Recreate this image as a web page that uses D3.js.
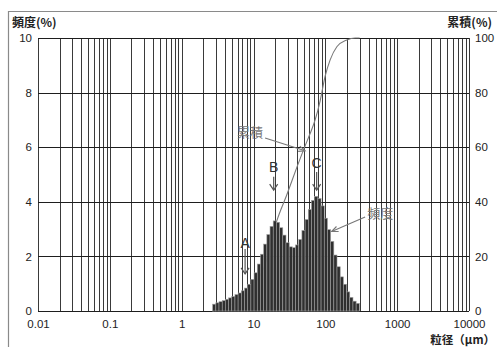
<!DOCTYPE html>
<html><head><meta charset="utf-8">
<script src="https://cdn.jsdelivr.net/npm/d3@7"></script>
<style>
html,body{margin:0;padding:0;background:#fff;}
svg{display:block;}
text{font-family:"Liberation Sans",Arial,sans-serif;}
.jp{font-family:"Noto Sans CJK JP","Noto Sans",sans-serif;}
</style></head>
<body>
<svg id="c" width="497" height="347"></svg>
<script>
// ---- data ----
const binEdges = [2.70,2.99,3.31,3.67,4.06,4.50,4.98,5.52,6.11,6.77,7.50,8.31,9.20,10.19,11.29,12.50,13.85,15.34,16.99,18.82,20.84,23.09,25.57,28.33,31.38,34.75,38.49,42.64,47.23,52.31,57.94,64.18,71.09,78.75,87.22,96.61,107.0,118.5,131.3,145.4,161.1,178.4,197.6,218.9,242.5,268.5,297.5];
const freq = [0.25,0.30,0.34,0.38,0.43,0.48,0.53,0.60,0.66,0.74,0.84,0.98,1.16,1.40,1.72,2.08,2.45,2.80,3.10,3.30,3.25,3.05,2.78,2.50,2.35,2.32,2.42,2.62,2.95,3.35,3.72,4.05,4.20,4.12,3.85,3.40,2.98,2.55,2.05,1.62,1.25,0.98,0.70,0.50,0.36,0.28];
const cumSize = [2.70,4.72,8.97,14.5,21.1,29.1,40.1,52.3,61.4,72.1,84.7,99.4,116.7,144.6,199,260,300];
const cumPct  = [0,2,8,17,33,42.6,52.6,60.5,65,70,77,86,92,96.8,99.3,100,100];
const xTicks = [0.01,0.1,1,10,100,1000,10000];
const xTickLabels = ["0.01","0.1","1","10","100","1000","10000"];
const yLeftTicks = [0,2,4,6,8,10];
const yRightTicks = [0,20,40,60,80,100];
const peakLabels = [
  {t:"A", s:7.64, v:2.49, a0:2.27, a1:1.36},
  {t:"B", s:19.1, v:5.29, a0:4.92, a1:4.43},
  {t:"C", s:75.7, v:5.42, a0:5.09, a1:4.43}
];
const callouts = [
  {t:"累積", s:5.91, v:6.37, fs:14.5, fv:6.34, ts:52.3, tv:5.87},
  {t:"頻度", s:382, v:3.42, fs:358, fv:3.44, ts:122.4, tv:2.91}
];

// ---- scales ----
const L=38, R=469, T=38, B=311;
const x = d3.scaleLog().domain([0.01,10000]).range([L,R]);
const yL = d3.scaleLinear().domain([0,10]).range([B,T]);
const yR = d3.scaleLinear().domain([0,100]).range([B,T]);
const svg = d3.select("#c");

// outer frame
svg.append("path").attr("d","M8.5,347 L8.5,11.5 L497,11.5").attr("fill","none").attr("stroke","#8a8a8a").attr("stroke-width",1.2);

// vertical grid
const vgrid=[];
for(let e=-2;e<=3;e++){for(let m=1;m<=9;m++){vgrid.push(m*Math.pow(10,e));}}
vgrid.push(10000);
svg.append("g").selectAll("line").data(vgrid).join("line")
  .attr("x1",d=>Math.round(x(d))+0.5).attr("x2",d=>Math.round(x(d))+0.5)
  .attr("y1",T).attr("y2",B).attr("stroke","#3a3a3a").attr("stroke-width",1);
// horizontal grid
svg.append("g").selectAll("line").data(yLeftTicks).join("line")
  .attr("x1",L).attr("x2",R).attr("y1",d=>Math.round(yL(d))+0.5).attr("y2",d=>Math.round(yL(d))+0.5)
  .attr("stroke","#1e1e1e").attr("stroke-width",1.1);

// cumulative curve (behind bars)
svg.append("path").datum(cumSize.map((s,i)=>[s,cumPct[i]]))
  .attr("d",d3.line().x(d=>x(d[0])).y(d=>yR(d[1])).curve(d3.curveMonotoneX))
  .attr("fill","none").attr("stroke","#7a7a7a").attr("stroke-width",1.1);

// bars
svg.append("g").selectAll("rect").data(freq).join("rect")
  .attr("x",(d,i)=>x(binEdges[i])).attr("width",(d,i)=>x(binEdges[i+1])-x(binEdges[i]))
  .attr("y",d=>yL(d)).attr("height",d=>B-yL(d))
  .attr("fill","#2f2f2f").attr("stroke","#a0a0a0").attr("stroke-width",0.6);

// axes labels
const axL = d3.axisLeft(yL).tickValues(yLeftTicks).tickSize(0).tickPadding(6).tickFormat(d3.format("d"));
const gL = svg.append("g").attr("transform",`translate(${L-0},0)`).call(axL);
const axR = d3.axisRight(yR).tickValues(yRightTicks).tickSize(0).tickPadding(6).tickFormat(d3.format("d"));
const gR = svg.append("g").attr("transform",`translate(${R},0)`).call(axR);
const axB = d3.axisBottom(x).tickValues(xTicks).tickSize(0).tickPadding(9).tickFormat((d,i)=>xTickLabels[i]);
const gB = svg.append("g").attr("transform",`translate(0,${B})`).call(axB);
[gL,gR,gB].forEach(g=>{g.select(".domain").remove();g.selectAll("text").attr("font-size",11.5).attr("fill","#222").attr("font-family","Liberation Sans, Arial, sans-serif");});

// titles
svg.append("text").attr("class","jp").attr("x",12).attr("y",27).attr("font-size",12).attr("font-weight","bold").attr("fill","#222").text("頻度(%)");
svg.append("text").attr("class","jp").attr("x",492).attr("y",27).attr("text-anchor","end").attr("font-size",12).attr("font-weight","bold").attr("fill","#222").text("累積(%)");
svg.append("text").attr("class","jp").attr("x",495).attr("y",344).attr("text-anchor","end").attr("font-size",11.5).attr("font-weight","bold").attr("fill","#222").text("粒径（μm）");

// peak labels with arrows
const pk = svg.append("g");
peakLabels.forEach(p=>{
  const px=x(p.s);
  pk.append("text").attr("x",px).attr("y",yL(p.v)+5).attr("text-anchor","middle").attr("font-size",14).attr("fill","#333").text(p.t);
  const y0=yL(p.a0), y1=yL(p.a1);
  pk.append("line").attr("x1",px).attr("x2",px).attr("y1",y0).attr("y2",y1).attr("stroke","#555").attr("stroke-width",1.2);
  pk.append("path").attr("d",`M${px-4},${y1-6} L${px},${y1} L${px+4},${y1-6}`).attr("fill","none").attr("stroke","#555").attr("stroke-width",1.2);
});

// callouts
callouts.forEach(c=>{
  svg.append("text").attr("class","jp").attr("x",x(c.s)).attr("y",yL(c.v)).attr("font-size",13).attr("fill","#777").text(c.t);
  const x0=x(c.fs), y0=yL(c.fv), x1=x(c.ts), y1=yL(c.tv);
  svg.append("line").attr("x1",x0).attr("y1",y0).attr("x2",x1).attr("y2",y1).attr("stroke","#777").attr("stroke-width",1.1);
  const ang=Math.atan2(y1-y0,x1-x0), h=7;
  const a1=ang+Math.PI-0.4, a2=ang+Math.PI+0.4;
  svg.append("path").attr("d",`M${x1+h*Math.cos(a1)},${y1+h*Math.sin(a1)} L${x1},${y1} L${x1+h*Math.cos(a2)},${y1+h*Math.sin(a2)}`)
    .attr("fill","none").attr("stroke","#777").attr("stroke-width",1.1);
});
</script>
</body></html>
